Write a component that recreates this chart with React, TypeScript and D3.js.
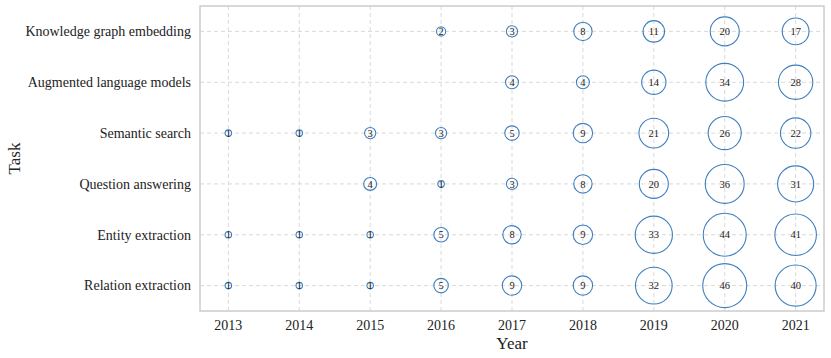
import React, { useRef, useEffect } from "react";
import * as d3 from "d3";

const years = [2013, 2014, 2015, 2016, 2017, 2018, 2019, 2020, 2021];
const tasks = [
  "Knowledge graph embedding",
  "Augmented language models",
  "Semantic search",
  "Question answering",
  "Entity extraction",
  "Relation extraction",
];

// counts per task, one entry per year (null = no papers)
const knowledgeGraph = [null, null, null, 2, 3, 8, 11, 20, 17];
const augmentedLM = [null, null, null, null, 4, 4, 14, 34, 28];
const semanticSearch = [1, 1, 3, 3, 5, 9, 21, 26, 22];
const questionAnswering = [null, null, 4, 1, 3, 8, 20, 36, 31];
const entityExtraction = [1, 1, 1, 5, 8, 9, 33, 44, 41];
const relationExtraction = [1, 1, 1, 5, 9, 9, 32, 46, 40];

const seriesByTask = [
  knowledgeGraph,
  augmentedLM,
  semanticSearch,
  questionAnswering,
  entityExtraction,
  relationExtraction,
];

const App = () => {
  const svgRef = useRef<SVGSVGElement>(null);
  const width = 831;
  const height = 358;

  useEffect(() => {
    const margin = { top: 6, right: 7, bottom: 47, left: 200 };
    const svg = d3.select(svgRef.current);
    svg.selectAll("*").remove();

    const font = "'Liberation Serif', 'Times New Roman', serif";

    const xScale = d3
      .scalePoint<number>()
      .domain(years)
      .range([margin.left, width - margin.right])
      .padding(0.4);

    const yScale = d3
      .scalePoint<string>()
      .domain(tasks)
      .range([margin.top, height - margin.bottom])
      .padding(0.5);

    const rScale = d3.scaleSqrt().domain([0, 46]).range([0, 22]);

    const points: { task: string; year: number; val: number }[] = [];
    tasks.forEach((task, i) => {
      seriesByTask[i].forEach((v, j) => {
        if (v != null) points.push({ task, year: years[j], val: v });
      });
    });

    // grid
    const grid = svg.append("g");
    grid
      .selectAll("line.vx")
      .data(years)
      .join("line")
      .attr("x1", (d) => xScale(d)!)
      .attr("x2", (d) => xScale(d)!)
      .attr("y1", margin.top)
      .attr("y2", height - margin.bottom)
      .attr("stroke", "#cfcfcf")
      .attr("stroke-width", 0.8)
      .attr("stroke-dasharray", "4,3");
    grid
      .selectAll("line.hy")
      .data(tasks)
      .join("line")
      .attr("y1", (d) => yScale(d)!)
      .attr("y2", (d) => yScale(d)!)
      .attr("x1", margin.left)
      .attr("x2", width - margin.right)
      .attr("stroke", "#cfcfcf")
      .attr("stroke-width", 0.8)
      .attr("stroke-dasharray", "4,3");

    // frame
    svg
      .append("rect")
      .attr("x", margin.left)
      .attr("y", margin.top)
      .attr("width", width - margin.right - margin.left)
      .attr("height", height - margin.bottom - margin.top)
      .attr("fill", "none")
      .attr("stroke", "#cccccc")
      .attr("stroke-width", 1.5);

    // bubbles
    const bubbles = svg.append("g");
    bubbles
      .selectAll("circle")
      .data(points)
      .join("circle")
      .attr("cx", (d) => xScale(d.year)!)
      .attr("cy", (d) => yScale(d.task)!)
      .attr("r", (d) => rScale(d.val))
      .attr("fill", "none")
      .attr("stroke", "#3f7fbf")
      .attr("stroke-width", 1.1);

    bubbles
      .selectAll("text")
      .data(points)
      .join("text")
      .attr("x", (d) => xScale(d.year)!)
      .attr("y", (d) => yScale(d.task)!)
      .attr("dy", "0.35em")
      .attr("text-anchor", "middle")
      .attr("font-family", font)
      .attr("font-size", "10.5px")
      .attr("fill", "#222")
      .text((d) => d.val);

    // x tick labels
    svg
      .append("g")
      .selectAll("text")
      .data(years)
      .join("text")
      .attr("x", (d) => xScale(d)!)
      .attr("y", height - margin.bottom + 19)
      .attr("text-anchor", "middle")
      .attr("font-family", font)
      .attr("font-size", "14px")
      .attr("fill", "#222")
      .text((d) => d);

    // y tick labels
    svg
      .append("g")
      .selectAll("text")
      .data(tasks)
      .join("text")
      .attr("x", margin.left - 9)
      .attr("y", (d) => yScale(d)!)
      .attr("dy", "0.35em")
      .attr("text-anchor", "end")
      .attr("font-family", font)
      .attr("font-size", "14px")
      .attr("fill", "#222")
      .text((d) => d);

    // axis titles
    svg
      .append("text")
      .attr("x", (margin.left + width - margin.right) / 2)
      .attr("y", height - 9)
      .attr("text-anchor", "middle")
      .attr("font-family", font)
      .attr("font-size", "17px")
      .attr("fill", "#222")
      .text("Year");

    svg
      .append("text")
      .attr("transform", "rotate(-90)")
      .attr("x", -(margin.top + height - margin.bottom) / 2)
      .attr("y", 20)
      .attr("text-anchor", "middle")
      .attr("font-family", font)
      .attr("font-size", "17px")
      .attr("fill", "#222")
      .text("Task");
  }, []);

  return (
    <svg
      ref={svgRef}
      width={width}
      height={height}
      style={{ position: "absolute", left: 0, top: 0 }}
    ></svg>
  );
};

export default App;
